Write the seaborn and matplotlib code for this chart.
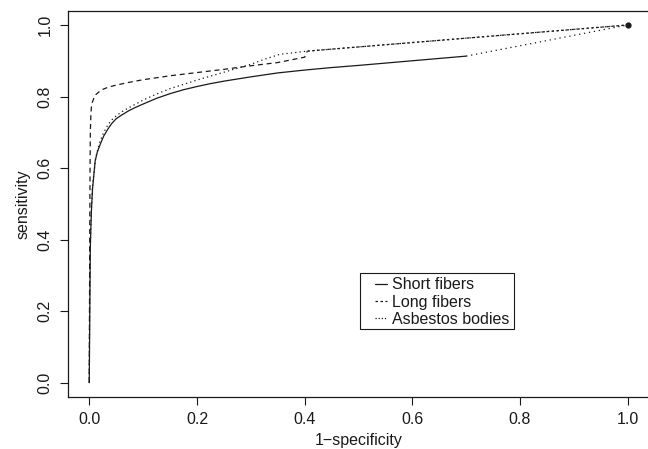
import numpy as np
import matplotlib
matplotlib.use("Agg")
import matplotlib.pyplot as plt
import seaborn as sns
from matplotlib.lines import Line2D
from matplotlib.patches import Rectangle

# ROC curves (1-specificity, sensitivity)
short_fpr = [0, 0.001, 0.002, 0.004, 0.006, 0.011, 0.015, 0.02, 0.027, 0.035, 0.042,
             0.05, 0.06, 0.073, 0.085, 0.1, 0.125, 0.15, 0.175, 0.2, 0.225, 0.25,
             0.275, 0.3, 0.35, 0.4, 0.45, 0.5, 0.6, 0.7]
short_tpr = [0, 0.2, 0.38, 0.48, 0.54, 0.62, 0.645, 0.665, 0.69, 0.71, 0.725,
             0.738, 0.748, 0.76, 0.769, 0.779, 0.795, 0.808, 0.819, 0.828, 0.836, 0.843,
             0.849, 0.855, 0.866, 0.874, 0.881, 0.887, 0.9, 0.913]
short_ext_fpr = [0.7, 1.0]
short_ext_tpr = [0.913, 1.0]

long_fpr = [0, 0.001, 0.0015, 0.002, 0.003, 0.004, 0.006, 0.009, 0.012, 0.018, 0.025,
            0.035, 0.05, 0.075, 0.1, 0.15, 0.2, 0.25, 0.3, 0.35, 0.4, 0.405]
long_tpr = [0, 0.45, 0.6, 0.7, 0.75, 0.77, 0.785, 0.797, 0.805, 0.813, 0.82,
            0.826, 0.832, 0.84, 0.847, 0.858, 0.867, 0.876, 0.886, 0.895, 0.91, 0.927]
long_ext_fpr = [0.405, 1.0]
long_ext_tpr = [0.927, 1.0]

asb_fpr = [0, 0.001, 0.003, 0.006, 0.012, 0.02, 0.027, 0.035, 0.042, 0.05, 0.06, 0.075,
           0.1, 0.125, 0.15, 0.175, 0.2, 0.225, 0.25, 0.275, 0.3, 0.325, 0.354, 0.405, 1.0]
asb_tpr = [0, 0.3, 0.45, 0.55, 0.63, 0.675, 0.7, 0.722, 0.735, 0.746, 0.757, 0.77,
           0.79, 0.807, 0.822, 0.834, 0.846, 0.857, 0.868, 0.879, 0.89, 0.904, 0.918, 0.927, 1.0]

labels = ["Short fibers", "Long fibers", "Asbestos bodies"]
ticks = [0.0, 0.2, 0.4, 0.6, 0.8, 1.0]

sns.set_style("ticks")
plt.rcParams["font.family"] = ["Liberation Sans", "DejaVu Sans"]
fs = 11.5

fig = plt.figure(figsize=(6.48, 4.49), dpi=100)
ax = fig.add_axes([0.1045, 0.1158, 0.8974, 0.8604])

ink = "#1a1a1a"
lw = 0.9
sns.lineplot(x=short_fpr, y=short_tpr, ax=ax, color=ink, lw=lw, sort=False, estimator=None)
sns.lineplot(x=short_ext_fpr, y=short_ext_tpr, ax=ax, color=ink, lw=lw, ls=(0, (1, 3)),
             sort=False, estimator=None)
sns.lineplot(x=long_fpr, y=long_tpr, ax=ax, color=ink, lw=lw, ls=(0, (4, 3)),
             sort=False, estimator=None)
sns.lineplot(x=long_ext_fpr, y=long_ext_tpr, ax=ax, color=ink, lw=lw, ls=(0, (2, 2)),
             sort=False, estimator=None)
sns.lineplot(x=asb_fpr, y=asb_tpr, ax=ax, color=ink, lw=lw, ls=(0, (1, 2.5)),
             sort=False, estimator=None)
ax.plot([1.0], [1.0], "o", color=ink, ms=3.5)

ax.set_xlim(-0.04, 1.04)
ax.set_ylim(-0.04, 1.04)
ax.set_xticks(ticks)
ax.set_yticks(ticks)
ax.set_xticklabels([f"{t:.1f}" for t in ticks])
ax.set_yticklabels([f"{t:.1f}" for t in ticks], rotation=90, va="center")
ax.tick_params(direction="out", length=6, width=0.8, color=ink, labelcolor=ink,
               labelsize=fs, pad=5)
for s in ax.spines.values():
    s.set_color(ink)
    s.set_linewidth(0.9)

ax.set_xlabel("1\u2212specificity", color=ink, fontsize=fs, labelpad=4)
ax.set_ylabel("sensitivity", color=ink, fontsize=fs, labelpad=5)

# legend: R-style box with wider inner margins
ax.add_patch(Rectangle((0.503, 0.149), 0.286, 0.157, fill=False, edgecolor=ink,
                       lw=0.8, zorder=5))
handles = [Line2D([], [], color=ink, lw=lw),
           Line2D([], [], color=ink, lw=lw, ls=(0, (2, 2))),
           Line2D([], [], color=ink, lw=lw, ls=(0, (1, 1.5)))]
leg = ax.legend(handles, labels, loc="upper left", bbox_to_anchor=(0.531, 0.295),
                bbox_transform=ax.transData, borderaxespad=0, frameon=False,
                handlelength=0.75, handletextpad=0.3,
                labelspacing=0.15, borderpad=0, fontsize=fs)
for t in leg.get_texts():
    t.set_color(ink)

fig.savefig("out.png", dpi=100)
